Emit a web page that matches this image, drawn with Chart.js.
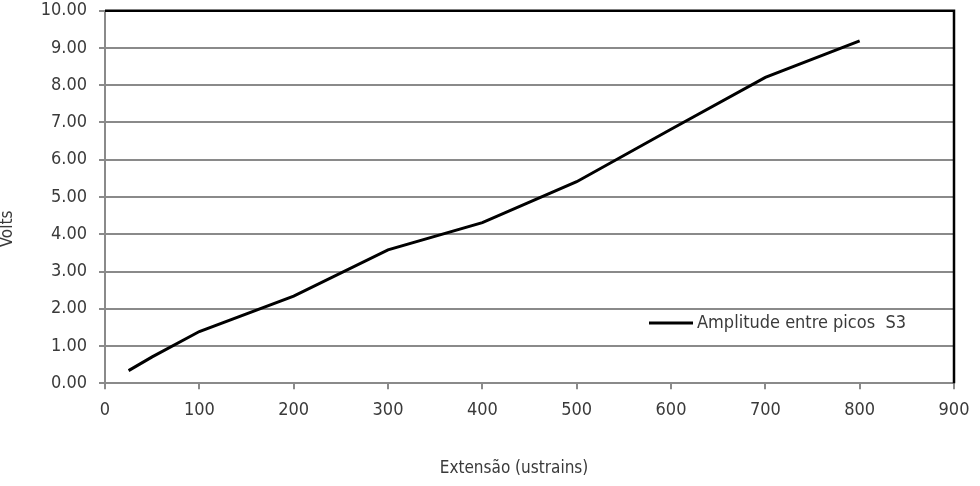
<!DOCTYPE html>
<html>
<head>
<meta charset="utf-8">
<script src="https://cdn.jsdelivr.net/npm/chart.js@4.4.0/dist/chart.umd.min.js"></script>
<style>
    html, body { margin: 0; padding: 0; background: #fff; }
    #wrap { width: 980px; height: 486px; position: relative; }
</style>
</head>
<body>
<div id="wrap"><canvas id="chart"></canvas></div>
<script>
// dados
const extensao = [25, 50, 100, 200, 300, 400, 500, 600, 700, 800];
const volts = [0.34, 0.71, 1.39, 2.34, 3.58, 4.31, 5.41, 6.82, 8.21, 9.19];
const serieLabel = 'Amplitude entre picos  S3';
const xTitle = 'Extensão (ustrains)';
const yTitle = 'Volts';

const FONT = "'DejaVu Sans Condensed', 'DejaVu Sans', sans-serif";
const GRID = '#8a8a8a';
const TXT = '#3a3a3a';

// moldura preta (topo e direita), legenda e títulos
const decor = {
    id: 'decor',
    afterDatasetsDraw(chart) {
        const { ctx, chartArea: a } = chart;
        ctx.save();
        ctx.strokeStyle = '#000';
        ctx.lineWidth = 2.5;
        ctx.beginPath();
        ctx.moveTo(a.left, a.top);
        ctx.lineTo(a.right, a.top);
        ctx.lineTo(a.right, a.bottom);
        ctx.stroke();

        // legenda
        ctx.lineWidth = 3;
        ctx.beginPath();
        ctx.moveTo(649, 323);
        ctx.lineTo(693, 323);
        ctx.stroke();
        ctx.fillStyle = TXT;
        ctx.font = '18px ' + FONT;
        ctx.textBaseline = 'middle';
        ctx.textAlign = 'left';
        ctx.fillText(serieLabel, 697, 323);

        // títulos
        ctx.font = '17px ' + FONT;
        ctx.textAlign = 'center';
        ctx.fillText(xTitle, 514, 469);
        ctx.translate(8, 229);
        ctx.rotate(-Math.PI / 2);
        ctx.fillText(yTitle, 0, 0);
        ctx.restore();
    }
};

new Chart(document.getElementById('chart'), {
    type: 'line',
    data: {
        datasets: [{
            label: serieLabel,
            data: extensao.map((x, i) => ({ x: x, y: volts[i] })),
            borderColor: '#000',
            borderWidth: 3,
            pointRadius: 0,
            tension: 0,
            fill: false
        }]
    },
    options: {
        responsive: true,
        maintainAspectRatio: false,
        animation: false,
        layout: { padding: { top: 0, right: 26, left: 0, bottom: 0 } },
        plugins: {
            legend: { display: false },
            tooltip: { enabled: false }
        },
        scales: {
            x: {
                type: 'linear',
                min: 0,
                max: 900,
                ticks: {
                    stepSize: 100,
                    color: TXT,
                    font: { family: FONT, size: 18 },
                    padding: 10,
                    maxRotation: 0
                },
                grid: {
                    display: true,
                    drawOnChartArea: false,
                    color: GRID,
                    lineWidth: 2,
                    tickLength: 6
                },
                border: { color: GRID, width: 2 },
                afterFit(scale) { scale.height = 102.7; }
            },
            y: {
                min: 0,
                max: 10,
                ticks: {
                    stepSize: 1,
                    color: TXT,
                    font: { family: FONT, size: 18 },
                    padding: 12,
                    callback: v => v.toFixed(2)
                },
                grid: {
                    color: GRID,
                    lineWidth: 2,
                    tickLength: 6
                },
                border: { color: GRID, width: 2 },
                afterFit(scale) {
                    scale.width = 105;
                    scale.paddingTop = 10.7;
                    scale.paddingBottom = 0;
                }
            }
        }
    },
    plugins: [decor]
});
</script>
</body>
</html>
